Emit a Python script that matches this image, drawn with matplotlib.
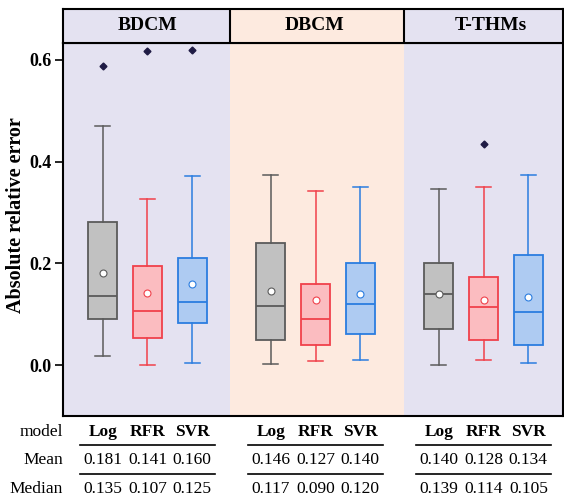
import matplotlib
matplotlib.use("Agg")
import matplotlib.pyplot as plt
import matplotlib.transforms as mtransforms

plt.rcParams['font.family'] = ['Liberation Serif', 'DejaVu Serif']

# data
groups = ["BDCM", "DBCM", "T-THMs"]
models = ["Log", "RFR", "SVR"]

whislo = [[0.018, 0.001, 0.005], [0.002, 0.008, 0.010], [0.001, 0.010, 0.005]]
q1 = [[0.090, 0.054, 0.083], [0.050, 0.039, 0.061], [0.070, 0.050, 0.039]]
med = [[0.135, 0.107, 0.125], [0.117, 0.090, 0.120], [0.139, 0.114, 0.105]]
q3 = [[0.281, 0.195, 0.211], [0.239, 0.160, 0.200], [0.201, 0.173, 0.216]]
whishi = [[0.469, 0.326, 0.372], [0.374, 0.343, 0.351], [0.347, 0.351, 0.374]]
means = [[0.181, 0.141, 0.160], [0.146, 0.127, 0.140], [0.140, 0.128, 0.134]]
fliers = [[[0.587], [0.617], [0.619]], [[], [], []], [[], [0.434], []]]

mean_lbl = [["0.181", "0.141", "0.160"], ["0.146", "0.127", "0.140"], ["0.140", "0.128", "0.134"]]
median_lbl = [["0.135", "0.107", "0.125"], ["0.117", "0.090", "0.120"], ["0.139", "0.114", "0.105"]]

edge_cols = ["#5b5b5b", "#f0414b", "#2b7de0"]
face_cols = ["#c1c1c1", "#fbbcc0", "#aecbf2"]
bg_cols = ["#e4e2f1", "#fdeadf", "#e4e2f1"]

centers = [1.0, 4.75, 8.5]
offsets = [-1, 0, 1]
dividers = [2.842, 6.72]
xlim = (-0.886, 10.274)
title_x = [1.0, 4.72, 8.67]

fig = plt.figure(figsize=(5.64, 5.0), dpi=100)
L, R = 63 / 564, 563 / 564
ax = fig.add_axes([L, 84 / 500, R - L, (416 - 43) / 500])
hax = fig.add_axes([L, 457 / 500, R - L, 34 / 500], sharex=ax)
tax = fig.add_axes([L, 0, R - L, 84 / 500], sharex=ax)

edges = [xlim[0]] + dividers + [xlim[1]]
for a in (ax, hax):
    for i in range(3):
        a.axvspan(edges[i], edges[i + 1], color=bg_cols[i], lw=0, zorder=0)

for gi in range(3):
    for mi in range(3):
        st = dict(whislo=whislo[gi][mi], q1=q1[gi][mi], med=med[gi][mi],
                  q3=q3[gi][mi], whishi=whishi[gi][mi], mean=means[gi][mi],
                  fliers=fliers[gi][mi])
        ec = edge_cols[mi]
        ax.bxp([st], positions=[centers[gi] + offsets[mi]], widths=0.65,
               patch_artist=True, showmeans=True,
               boxprops=dict(facecolor=face_cols[mi], edgecolor=ec, linewidth=1.3),
               medianprops=dict(color=ec, linewidth=1.3),
               whiskerprops=dict(color=ec, linewidth=1.1),
               capprops=dict(color=ec, linewidth=1.1),
               meanprops=dict(marker='o', markerfacecolor='white', markeredgecolor=ec,
                              markersize=5, markeredgewidth=0.8),
               flierprops=dict(marker='D', markerfacecolor='#1f1b45',
                               markeredgecolor='#1f1b45', markersize=3.5))

ax.set_xlim(*xlim)
ax.set_ylim(-0.1, 0.633)
ax.set_yticks([0.0, 0.2, 0.4, 0.6])
ax.set_yticklabels(["0.0", "0.2", "0.4", "0.6"], fontweight='bold', fontsize=13)
ax.tick_params(axis='y', direction='out', length=6, width=1.2, pad=2)
ax.tick_params(axis='x', bottom=False, labelbottom=False)
ax.set_ylabel("Absolute relative error", fontweight='bold', fontsize=14.5)
ax.yaxis.set_label_coords(-0.074, 0.539)
for s in ax.spines.values():
    s.set_linewidth(1.5)

# header strip
hax.set_ylim(0, 1)
hax.tick_params(left=False, bottom=False, labelleft=False, labelbottom=False)
for s in hax.spines.values():
    s.set_linewidth(1.5)
for d in dividers:
    hax.axvline(d, color='black', lw=1.5)
for gi, g in enumerate(groups):
    hax.text(title_x[gi], 0.5, g, ha='center', va='center', fontweight='bold', fontsize=14)

# table below
tax.set_ylim(84, 0)
tax.axis('off')
row_y = [16, 44, 73]
trans = mtransforms.blended_transform_factory(tax.transAxes, tax.transData)
for lbl, y in zip(["model", "Mean", "Median"], row_y):
    tax.text(0.0, y, lbl, transform=trans, ha='right', va='center', fontsize=12.5)
for gi in range(3):
    for mi in range(3):
        x = centers[gi] + offsets[mi]
        tax.text(x, row_y[0], models[mi], ha='center', va='center',
                 fontweight='bold', fontsize=12.5)
        tax.text(x, row_y[1], mean_lbl[gi][mi], ha='center', va='center', fontsize=12.5)
        tax.text(x, row_y[2], median_lbl[gi][mi], ha='center', va='center', fontsize=12.5)
    for y in (29, 58):
        tax.plot([centers[gi] - 1.5, centers[gi] + 1.5], [y, y], color='black', lw=1.2,
                 clip_on=False)

fig.savefig("out.png", dpi=100)
